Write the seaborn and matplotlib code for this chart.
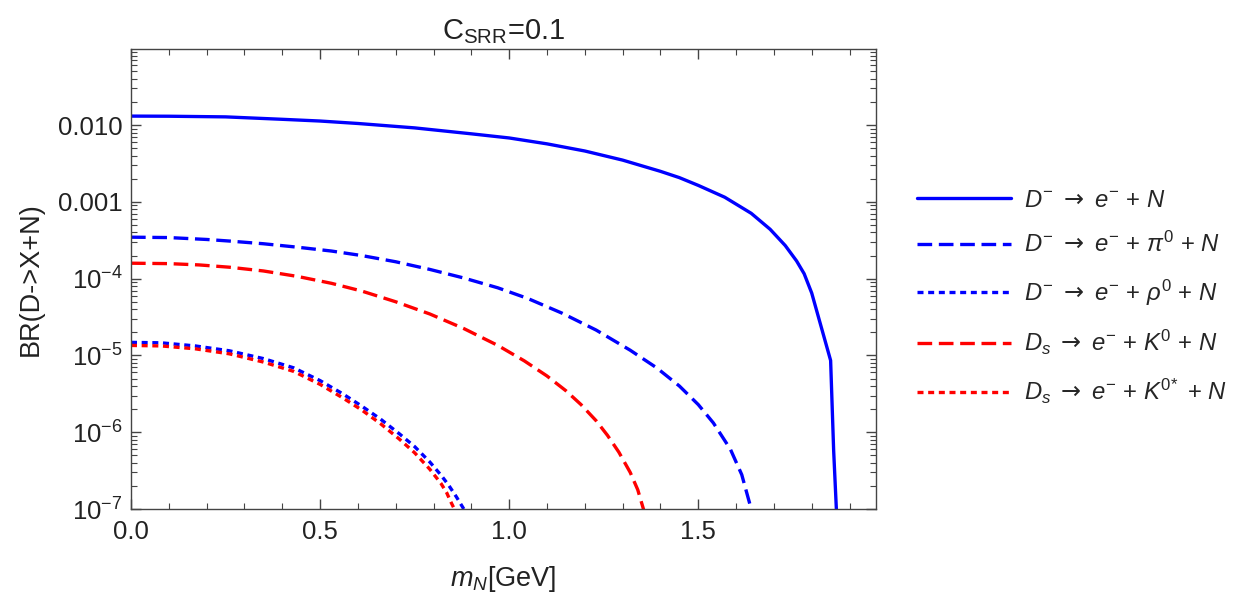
import numpy as np
import pandas as pd
import matplotlib
matplotlib.use("Agg")
import matplotlib.pyplot as plt
import matplotlib.ticker as mticker
import seaborn as sns

# values (x in GeV, branching ratio)
x_d_en = [0.0, 0.1, 0.25, 0.4, 0.5, 0.6, 0.75, 0.9, 1.0, 1.1, 1.2, 1.3, 1.4, 1.45, 1.5,
          1.57, 1.64, 1.69, 1.73, 1.76, 1.78, 1.80, 1.85, 1.858, 1.868]
br_d_en = [0.0131, 0.01305, 0.0128, 0.0119, 0.0113, 0.0105, 0.0092, 0.0077, 0.0068, 0.0057,
           0.0046, 0.0035, 0.0025, 0.00207, 0.00164, 0.00115, 0.00071, 0.00044, 0.00027,
           0.00017, 0.000116, 6.5e-5, 8.6e-6, 5.8e-7, 5e-8]

x_d_pi = [0.0, 0.1, 0.2, 0.26, 0.35, 0.44, 0.53, 0.61, 0.7, 0.79, 0.88, 0.97, 1.05, 1.14,
          1.23, 1.32, 1.39, 1.45, 1.5, 1.54, 1.585, 1.615, 1.64, 1.65]
br_d_pi = [3.47e-4, 3.43e-4, 3.24e-4, 3.09e-4, 2.85e-4, 2.57e-4, 2.29e-4, 2.0e-4, 1.66e-4,
           1.32e-4, 1.02e-4, 7.6e-5, 5.5e-5, 3.55e-5, 2.14e-5, 1.17e-5, 6.9e-6, 4.0e-6,
           2.29e-6, 1.32e-6, 6.0e-7, 2.8e-7, 1e-7, 5e-8]

x_d_rho = [0.0, 0.08, 0.17, 0.26, 0.35, 0.43, 0.50, 0.56, 0.61, 0.66, 0.71, 0.75, 0.79,
           0.82, 0.84, 0.86, 0.88, 0.89]
br_d_rho = [1.48e-5, 1.46e-5, 1.33e-5, 1.15e-5, 9.1e-6, 6.9e-6, 4.7e-6, 3.16e-6, 2.19e-6,
            1.48e-6, 9.5e-7, 6.5e-7, 4.1e-7, 2.75e-7, 2.04e-7, 1.45e-7, 1e-7, 5e-8]

x_ds_k = [0.0, 0.1, 0.18, 0.26, 0.35, 0.44, 0.53, 0.61, 0.7, 0.79, 0.88, 0.97, 1.04, 1.10,
          1.15, 1.19, 1.23, 1.26, 1.29, 1.32, 1.34, 1.355, 1.365]
br_ds_k = [1.59e-4, 1.57e-4, 1.51e-4, 1.41e-4, 1.26e-4, 1.07e-4, 8.7e-5, 6.9e-5, 5.0e-5,
           3.47e-5, 2.24e-5, 1.35e-5, 8.5e-6, 5.4e-6, 3.47e-6, 2.29e-6, 1.41e-6, 9.1e-7,
           5.5e-7, 3.0e-7, 1.78e-7, 1e-7, 5e-8]

x_ds_kst = [0.0, 0.08, 0.17, 0.26, 0.35, 0.43, 0.50, 0.56, 0.61, 0.66, 0.71, 0.75, 0.79,
            0.82, 0.835, 0.845, 0.855, 0.865]
br_ds_kst = [1.35e-5, 1.33e-5, 1.22e-5, 1.05e-5, 8.2e-6, 6.2e-6, 4.2e-6, 2.8e-6, 1.95e-6,
             1.29e-6, 8.1e-7, 5.4e-7, 3.3e-7, 2.14e-7, 1.62e-7, 1.26e-7, 1e-7, 5e-8]

labels = [r"$D^{-}$ $\mathsf{\rightarrow}$ $e^{-}$ + $N$",
          r"$D^{-}$ $\mathsf{\rightarrow}$ $e^{-}$ + $\pi^{0}$ + $N$",
          r"$D^{-}$ $\mathsf{\rightarrow}$ $e^{-}$ + $\rho^{0}$ + $N$",
          r"$D_{s}$ $\mathsf{\rightarrow}$ $e^{-}$ + $K^{0}$ + $N$",
          r"$D_{s}$ $\mathsf{\rightarrow}$ $e^{-}$ + $K^{0\!*}$ + $N$"]

sns.set_style("ticks")
plt.rcParams["font.family"] = ["Liberation Sans", "DejaVu Sans"]
plt.rcParams["mathtext.fontset"] = "custom"
plt.rcParams["mathtext.rm"] = "Liberation Sans"
plt.rcParams["mathtext.it"] = "Liberation Sans:italic"
plt.rcParams["mathtext.bf"] = "Liberation Sans:bold"
plt.rcParams["mathtext.sf"] = "DejaVu Sans"

fig = plt.figure(figsize=(12.34, 5.92), dpi=100)
ax = fig.add_axes([131 / 1234, 1 - 509 / 592, (876 - 131) / 1234, (509 - 49) / 592])

dash = (0, (4.4, 2.0))
dot = (0, (1.8, 1.4))
series = [
    (x_d_en, br_d_en, "#0000ff", "-"),
    (x_d_pi, br_d_pi, "#0000ff", dash),
    (x_d_rho, br_d_rho, "#0000ff", dot),
    (x_ds_k, br_ds_k, "#ff0000", dash),
    (x_ds_kst, br_ds_kst, "#ff0000", dot),
]
for (xs, ys, col, ls), lab in zip(series, labels):
    sns.lineplot(x=xs, y=ys, ax=ax, color=col, linestyle=ls, linewidth=2.4, label=lab)

ax.set_yscale("log")
ax.set_xlim(0, 1.97)
ax.set_ylim(1e-7, 0.098)

ax.xaxis.set_major_locator(mticker.FixedLocator([0.0, 0.5, 1.0, 1.5]))
ax.xaxis.set_major_formatter(mticker.FixedFormatter(["0.0", "0.5", "1.0", "1.5"]))
ax.xaxis.set_minor_locator(mticker.MultipleLocator(0.1))

yt = [1e-2, 1e-3, 1e-4, 1e-5, 1e-6, 1e-7]
ytl = ["0.010", "0.001", r"$10^{-4}$", r"$10^{-5}$", r"$10^{-6}$", r"$10^{-7}$"]
ax.yaxis.set_major_locator(mticker.FixedLocator(yt))
ax.yaxis.set_major_formatter(mticker.FixedFormatter(ytl))
ax.yaxis.set_minor_locator(mticker.LogLocator(base=10, subs=np.arange(2, 10), numticks=20))
ax.yaxis.set_minor_formatter(mticker.NullFormatter())

ax.tick_params(which="both", direction="in", top=True, right=True, colors="#444444",
               labelcolor="#222222", labelsize=18.5)
ax.tick_params(which="major", length=7, width=1.0)
ax.tick_params(which="minor", length=4, width=0.8)
ax.tick_params(axis="x", which="major", pad=8)
ax.tick_params(axis="y", which="major", pad=6)
for s in ax.spines.values():
    s.set_color("#444444")
    s.set_linewidth(1.0)

ax.set_title(r"C$_{\mathrm{SRR}}$=0.1", fontsize=21, color="#222222", pad=7)
ax.set_xlabel(r"$m_N$[GeV]", fontsize=19.5, color="#222222", labelpad=14)
ax.set_ylabel("BR(D->X+N)", fontsize=19.5, color="#222222", labelpad=10)

ax.legend(loc="center left", bbox_to_anchor=(917 / 1234, 1 - 298 / 592),
          bbox_transform=fig.transFigure, frameon=False, fontsize=17.2,
          handlelength=3.95, handletextpad=0.55, labelspacing=0.85,
          borderaxespad=0, borderpad=0)

fig.savefig("out.png", dpi=100)
